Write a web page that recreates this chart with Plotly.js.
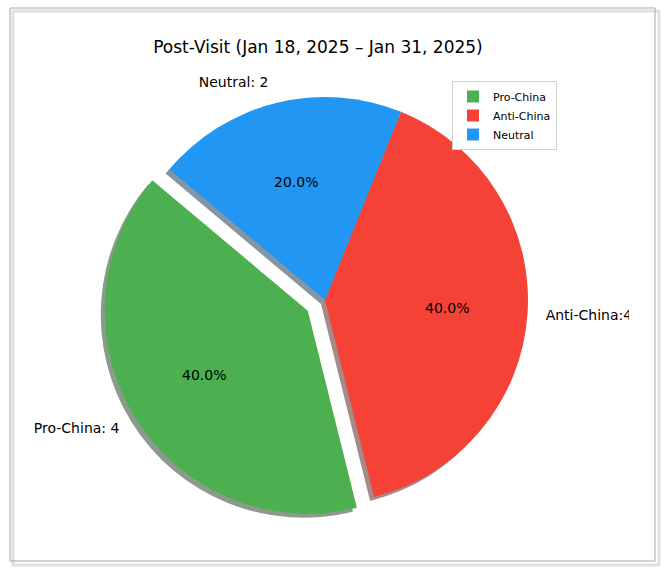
<!DOCTYPE html>
<html>
<head>
<meta charset="utf-8">
<script src="https://cdn.plot.ly/plotly-3.0.1.min.js"></script>
<style>html,body{margin:0;padding:0;background:#fff;}#chart{width:667px;height:578px;}</style>
</head>
<body>
<div id="chart"></div>
<script>
// Data
const labels = ["Pro-China", "Anti-China", "Neutral"];
const values = [4, 4, 2];
const pulls = [0.1, 0, 0];
const colors = ["#4CAF50", "#F44336", "#2196F3"];
const shadowColors = ["#8B9A8B", "#A48A88", "#8496A4"];
const labelTemplates = ["%{label}: %{value}", "%{label}:%{value}", "%{label}: %{value}"];
const titleText = "Post-Visit (Jan 18, 2025 – Jan 31, 2025)";

const W = 667, H = 578;
const FONT = "DejaVu Sans, sans-serif";
// pie geometry (pixels)
const cx = 325, cy = 300, R = 203;
const ROT = 166; // degrees clockwise from 12 o'clock, first slice spans ROT..ROT+share
function dom(r, dx, dy) {
  const half = r * 1.1;
  return {
    x: [(cx + dx - half) / W, (cx + dx + half) / W],
    y: [(H - cy - dy - half) / H, (H - cy - dy + half) / H]
  };
}
const common = {
  type: "pie", labels: labels, values: values, pull: pulls, sort: false,
  direction: "counterclockwise", rotation: ROT, hoverinfo: "skip"
};
const shadow = Object.assign({}, common, {
  domain: dom(R, -4, 4), marker: {colors: shadowColors}, textinfo: "none", showlegend: false
});
const main = Object.assign({}, common, {
  domain: dom(R, 0, 0), marker: {colors: colors}, textinfo: "none", showlegend: true
});
const RL = 216; // label ring radius
const lbl = Object.assign({}, common, {
  domain: dom(RL, 0, 0), pull: pulls.map(p => p * R / RL),
  marker: {colors: labels.map(() => "rgba(0,0,0,0)")},
  texttemplate: labelTemplates, textposition: "outside",
  outsidetextfont: {family: FONT, size: 14, color: "#000"}, showlegend: false
});

// percentage labels at 0.6 radius along each slice's mid angle
const total = values.reduce((a, b) => a + b, 0);
const annotations = [];
let startDeg = ROT + 360 * values[0] / total; // clockwise end of first slice
for (let i = 0; i < values.length; i++) {
  const span = 360 * values[i] / total;
  const endDeg = startDeg - span;
  const mid = (startDeg + endDeg) / 2 * Math.PI / 180;
  const ox = cx + pulls[i] * R * Math.sin(mid);
  const oy = cy - pulls[i] * R * Math.cos(mid);
  const px = ox + 0.6 * R * Math.sin(mid);
  const py = oy - 0.6 * R * Math.cos(mid);
  annotations.push({
    xref: "paper", yref: "paper", x: px / W, y: 1 - py / H,
    xanchor: "center", yanchor: "middle", showarrow: false,
    text: (100 * values[i] / total).toFixed(1) + "%",
    font: {family: FONT, size: 14, color: "#000"}
  });
  startDeg = endDeg;
}

const layout = {
  width: W, height: H,
  margin: {l: 0, r: 0, t: 0, b: 0},
  paper_bgcolor: "#fff",
  font: {family: FONT, color: "#000"},
  title: {text: titleText, font: {family: FONT, size: 17, color: "#000"},
          x: 318 / W, xanchor: "center", y: 1 - 47 / H, yanchor: "middle"},
  legend: {x: 452 / W, xanchor: "left", y: 1 - 81 / H, yanchor: "top",
           bgcolor: "#fff", bordercolor: "#d0d0d0", borderwidth: 1,
           font: {family: FONT, size: 11, color: "#000"}, tracegroupgap: 0},
  annotations: annotations,
  shapes: [
    {type: "rect", xref: "paper", yref: "paper", layer: "above",
     x0: 629 / W, x1: 652 / W, y0: 1 - 330 / H, y1: 1 - 300 / H,
     line: {width: 0}, fillcolor: "#fff"},
    {type: "rect", xref: "paper", yref: "paper", layer: "below",
     x0: 13 / W, x1: 659 / W, y0: 1 - 565 / H, y1: 1 - 11 / H,
     line: {width: 3, color: "rgba(0,0,0,0.12)"}, fillcolor: "rgba(0,0,0,0)"},
    {type: "rect", xref: "paper", yref: "paper", layer: "above",
     x0: 10 / W, x1: 655 / W, y0: 1 - 561 / H, y1: 1 - 8 / H,
     line: {width: 1, color: "#a8a8a8"}, fillcolor: "rgba(0,0,0,0)"}
  ]
};
Plotly.newPlot("chart", [shadow, main, lbl], layout, {displayModeBar: false, staticPlot: true});
</script>
</body>
</html>
